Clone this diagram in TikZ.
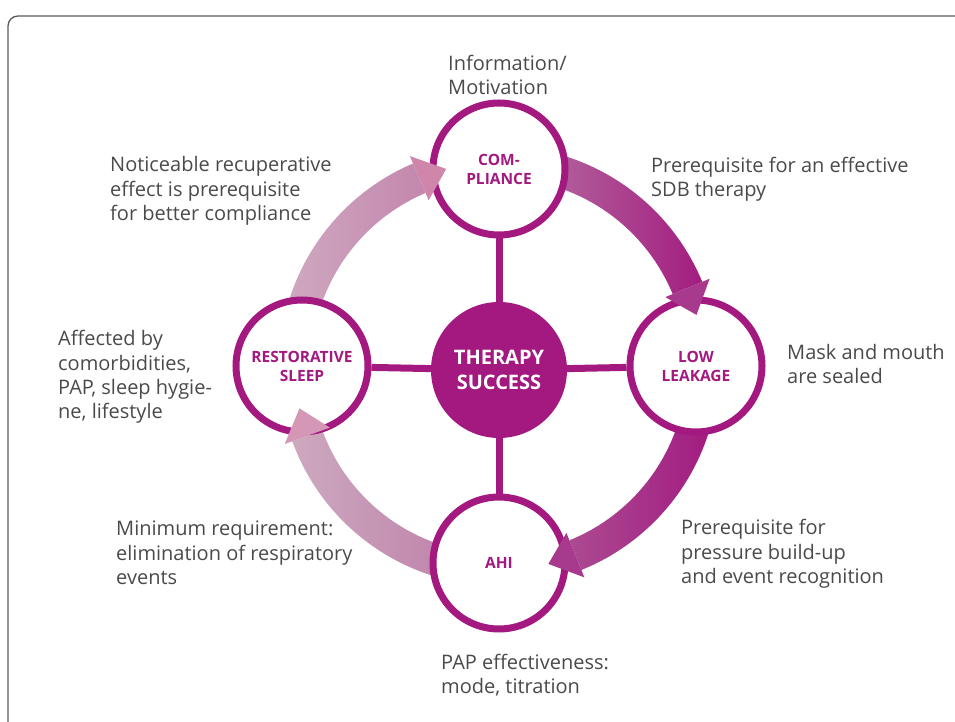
\documentclass[tikz,border=0pt]{standalone}
\usepackage{xcolor}
\usepackage{fontspec}
\setmainfont{Open Sans}
\usepackage{tikz}
\usetikzlibrary{math}

\definecolor{pmag}{HTML}{A31980}
\definecolor{txt}{HTML}{4A4A4A}
\definecolor{frm}{HTML}{5A5A5A}
% band colours: left / right / head
\definecolor{trl}{HTML}{B2629D}
\definecolor{trr}{HTML}{A31D80}
\definecolor{trh}{HTML}{A83A8D}
\definecolor{brl}{HTML}{AC4A92}
\definecolor{brr}{HTML}{A21C80}
\definecolor{brh}{HTML}{A73A8C}
\definecolor{bll}{HTML}{CDA9BF}
\definecolor{blr}{HTML}{BF84AB}
\definecolor{blh}{HTML}{D597B6}
\definecolor{tll}{HTML}{CFA8C0}
\definecolor{tlr}{HTML}{C387AD}
\definecolor{tlh}{HTML}{CF86AA}

\tikzset{
	ring/.style={circle, draw=pmag, line width=7pt, fill=white, minimum size=132pt,
		inner sep=0pt, align=center, text=pmag, font=\bfseries\fontsize{15.5}{19}\selectfont},
	hub/.style={circle, fill=pmag, minimum size=136pt, inner sep=0pt, align=center,
		text=white, font=\bfseries\fontsize{20}{25}\selectfont},
	spoke/.style={pmag, line width=7pt},
	note/.style={anchor=west, align=left, inner sep=0pt, text=txt,
		font=\fontsize{20}{24.3}\selectfont}
}

\begin{document}
\begin{tikzpicture}[x=1pt, y=1pt]

\useasboundingbox (-499,-356) rectangle (456,366);
\draw[frm, line width=1.3pt, rounded corners=10pt] (-491,350) rectangle (490,-390);

\tikzmath{
	\R = 204; % arc radius
	\w = 16;  % half band
	\hw = 24; % half head
	\d = 8;   % head length (deg)
}
\def\bands{75/22.5/trl/trr/trh, -15/-68/brl/brr/brh, -105/-160/bll/blr/blh, 165/113/tll/tlr/tlh}

% bands
\foreach \a/\b/\l/\r/\h in \bands
	\shade[left color=\l, right color=\r] (\a:{\R+\w})
		arc[start angle=\a, end angle=\b, radius={\R+\w}] -- (\b:{\R-\w})
		arc[start angle=\b, end angle=\a, radius={\R-\w}] -- cycle;

\node[hub] (succ) at (0,-4) {THERAPY\\SUCCESS};

\foreach \n/\ang/\t in {comp/90/{COM-\\PLIANCE}, leak/0/{LOW\\LEAKAGE},
		ahi/-90/{AHI}, sleep/180/{RESTORATIVE\\SLEEP}}
	\node[ring] (\n) at (\ang:197) {\t};

\foreach \n in {comp,leak,ahi,sleep}
	\draw[spoke] (succ) -- (\n);

% heads
\foreach \a/\b/\l/\r/\h in \bands
	\fill[\h] (\b:{\R+\hw}) -- (\b:{\R-\hw}) -- ({\b-\d}:\R) -- cycle;

\node[note] (info) at (-51,291) {Information/\\Motivation};
\node[note] (recup) at (-389,175) {Noticeable recuperative\\effect is prerequisite\\for better compliance};
\node[note] (sdb) at (152,187) {Prerequisite for an effective\\SDB therapy};
\node[note] (comorb) at (-441,-11) {Affected by\\comorbidities,\\PAP, sleep hygie-\\ne, lifestyle};
\node[note] (mask) at (288,2) {Mask and mouth\\are sealed};
\node[note] (minreq) at (-383,-187) {Minimum requirement:\\elimination of respiratory\\events};
\node[note] (press) at (182,-188) {Prerequisite for\\pressure build-up\\and event recognition};
\node[note] (papeff) at (-58,-309) {PAP effectiveness:\\mode, titration};

\end{tikzpicture}
\end{document}
